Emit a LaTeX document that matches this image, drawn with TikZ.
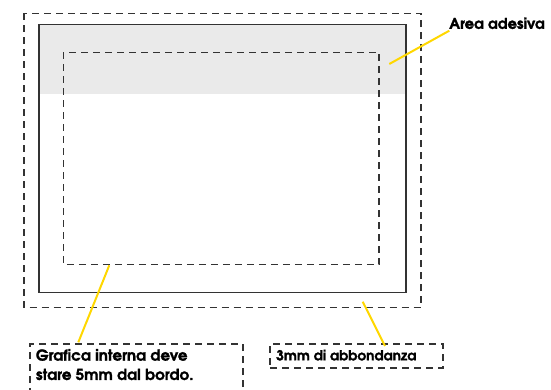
\documentclass[tikz,border=0pt]{standalone}
\usepackage{fontspec}
\newfontfamily\advbold{texgyreadventor-bold}[Extension=.otf,FakeBold=1.3]
\definecolor{dashgray}{HTML}{333333}
\definecolor{adgray}{HTML}{EAEAEA}
\definecolor{leader}{HTML}{FFD700}
\begin{document}
\begin{tikzpicture}[x=1pt,y=-1pt,
  dashbox/.style={draw=dashgray,line width=1.5pt,dash pattern=on 7pt off 5pt},
  solidbox/.style={draw=black!80,line width=1.1pt},
  leaderline/.style={draw=leader,line width=2pt},
  lbl/.style={font=\advbold\fontsize{#1}{19.3}\selectfont,text=black,inner sep=0pt},
  lbl/.default=13.8]
\useasboundingbox (0,0) rectangle (551,390);
\clip (0,0) rectangle (551,390);
% outer bleed
\draw[dashbox] (24,13.3) rectangle (421,307.7);
% adhesive area
\fill[adgray] (39,24.7) rectangle (406,93.7);
\draw[solidbox] (39,24.7) rectangle (406,292.3);
% safe area
\draw[dashbox] (63.3,52.3) rectangle (379,264.7);
% labels
\node[lbl=14.8,anchor=west] (area) at (449,23.3) {Area adesiva};
\node[dashbox,anchor=north west,minimum width=213pt,minimum height=70pt,inner sep=0pt] (box1) at (29,343.3) {};
\node[lbl=15.2,anchor=west,align=left] (t1) at (35.7,364.6) {Grafica interna deve\\stare 5mm dal bordo.};
\node[dashbox,anchor=north west,minimum width=173pt,minimum height=23.7pt,inner sep=0pt] (box2) at (269.3,343.3) {};
\node[lbl,anchor=west] (t2) at (276,355.2) {3mm di abbondanza};
% leaders
\coordinate (a1) at (389.3,64);
\coordinate (a2) at (449.3,30.7);
\coordinate (b1) at (109.3,265.3);
\coordinate (b2) at (78.3,342.3);
\coordinate (c1) at (362.7,301.7);
\coordinate (c2) at (385,346);
\draw[leaderline] (a1) -- (a2);
\draw[leaderline] (b1) -- (b2);
\draw[leaderline] (c1) -- (c2);
\end{tikzpicture}
\end{document}
